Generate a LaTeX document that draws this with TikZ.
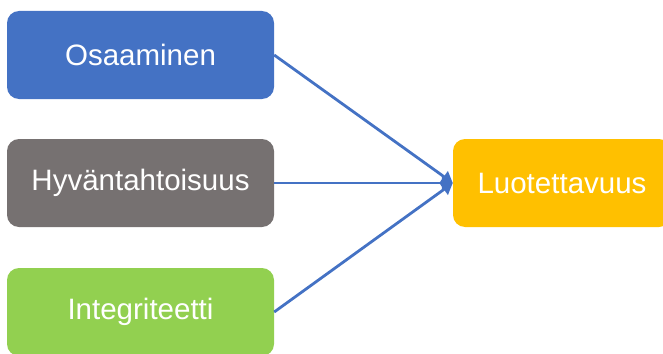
\documentclass[tikz,border=0pt]{standalone}
\usepackage{fontspec}
\setmainfont{Liberation Sans}
\usetikzlibrary{arrows.meta}
\definecolor{cblue}{HTML}{4472C4}
\definecolor{cgray}{HTML}{767171}
\definecolor{cgreen}{HTML}{92D050}
\definecolor{corange}{HTML}{FFC000}
\begin{document}
\begin{tikzpicture}[x=1pt,y=-1pt,
  box/.style={rounded corners=12pt, inner sep=0pt, text=white,
    font=\fontsize{29.5}{33}\selectfont},
  conn/.style={draw=cblue, line width=2.8pt, -{Triangle[length=11pt,width=13pt]}}]
\useasboundingbox (0,0) rectangle (663,353);
\begin{scope}
\clip (0,0) rectangle (663,353);
\node[box, fill=cblue, minimum width=267pt, minimum height=88pt] (osa) at (140.5,55) {\raisebox{-2pt}{Osaaminen}};
\node[box, fill=cgray, minimum width=267pt, minimum height=88pt] (hyv) at (140.5,183) {\raisebox{-2pt}{Hyväntahtoisuus}};
\node[box, fill=cgreen, minimum width=267pt, minimum height=88pt] (int) at (140.5,312) {\raisebox{-2pt}{Integriteetti}};
\node[box, fill=corange, minimum width=218pt, minimum height=88pt] (luo) at (562,183) {\raisebox{-2pt}{Luotettavuus}};
\end{scope}
\draw[conn] (osa.east) -- (luo.west);
\draw[conn] (hyv.east) -- (luo.west);
\draw[conn] (int.east) -- (luo.west);
\end{tikzpicture}
\end{document}
